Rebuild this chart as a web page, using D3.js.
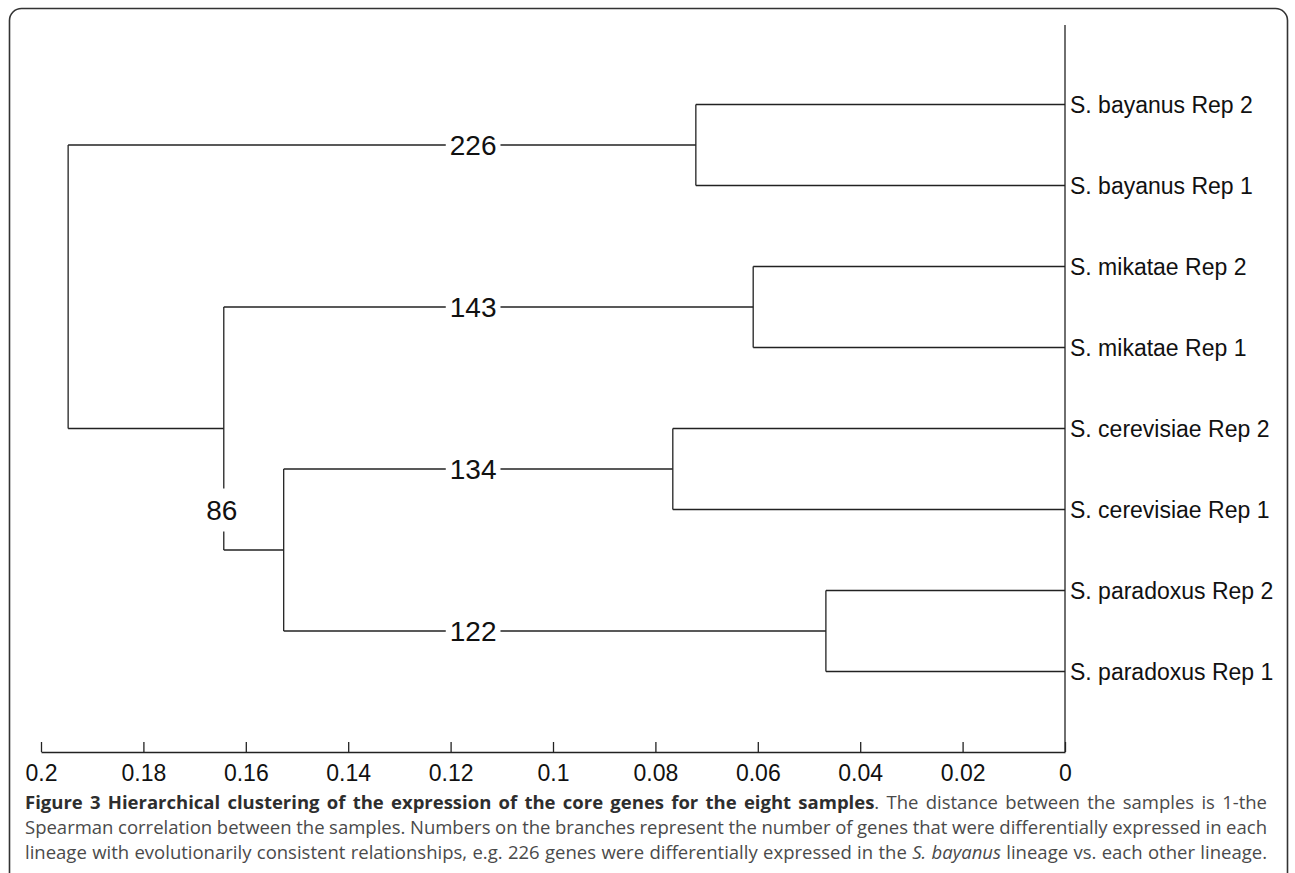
<!DOCTYPE html>
<html>
<head>
<meta charset="utf-8">
<script src="https://cdn.jsdelivr.net/npm/d3@7"></script>
<style>
  html, body { margin: 0; padding: 0; background: #fff; }
  svg { display: block; }
</style>
</head>
<body>
<svg id="chart" width="1295" height="873"></svg>
<script>
// ---------------- data ----------------
const leaves = [
  "S. bayanus Rep 2", "S. bayanus Rep 1",
  "S. mikatae Rep 2", "S. mikatae Rep 1",
  "S. cerevisiae Rep 2", "S. cerevisiae Rep 1",
  "S. paradoxus Rep 2", "S. paradoxus Rep 1"
];
// linkage: node ids 0..7 are leaves, 8.. are merges in order
const mergeLeft   = [0, 2, 4, 6, 10, 9, 8];
const mergeRight  = [1, 3, 5, 7, 11, 12, 13];
const mergeHeight = [0.0721, 0.0609, 0.0766, 0.0467, 0.1526, 0.1643, 0.1947];
const branchLabel = ["226", "143", "134", "122", "86", null, null];
const tickValues  = [0.2, 0.18, 0.16, 0.14, 0.12, 0.1, 0.08, 0.06, 0.04, 0.02, 0];
const tickLabels  = ["0.2", "0.18", "0.16", "0.14", "0.12", "0.1", "0.08", "0.06", "0.04", "0.02", "0"];
const captionLines = [
  [["b", "Figure 3 Hierarchical clustering of the expression of the core genes for the eight samples"],
   ["n", ". The distance between the samples is 1-the"]],
  [["n", "Spearman correlation between the samples. Numbers on the branches represent the number of genes that were differentially expressed in each"]],
  [["n", "lineage with evolutionarily consistent relationships, e.g. 226 genes were differentially expressed in the "],
   ["i", "S. bayanus"],
   ["n", " lineage vs. each other lineage."]]
];

// ---------------- layout ----------------
const svg = d3.select("#chart");
const ink = "#222";
const fontArial = "'Liberation Sans', Arial, Helvetica, sans-serif";

// frame
svg.append("rect")
  .attr("x", 9.5).attr("y", 8.5)
  .attr("width", 1278).attr("height", 920)
  .attr("rx", 12).attr("ry", 12)
  .attr("fill", "none").attr("stroke", "#333").attr("stroke-width", 1.6);

const x = d3.scaleLinear().domain([0.2, 0]).range([41, 1065]);
const y = d3.scalePoint().domain(leaves).range([104.5, 671.5]);
const axisY = 752;

// node positions
const nodeX = [], nodeY = [];
leaves.forEach((l, i) => { nodeX[i] = 0; nodeY[i] = y(l); });
mergeHeight.forEach((h, k) => {
  const id = leaves.length + k;
  nodeX[id] = h;
  nodeY[id] = (nodeY[mergeLeft[k]] + nodeY[mergeRight[k]]) / 2;
});

const g = svg.append("g")
  .attr("fill", "none").attr("stroke", ink).attr("stroke-width", 1.3);

mergeHeight.forEach((h, k) => {
  const a = mergeLeft[k], b = mergeRight[k];
  const px = x(h);
  g.append("line").attr("x1", px).attr("x2", px)
    .attr("y1", nodeY[a]).attr("y2", nodeY[b]);
  [a, b].forEach(c => {
    g.append("line")
      .attr("x1", px).attr("x2", x(nodeX[c]))
      .attr("y1", nodeY[c]).attr("y2", nodeY[c]);
  });
});

// right baseline (distance 0)
g.append("line").attr("x1", x(0)).attr("x2", x(0)).attr("y1", 25).attr("y2", axisY);

// branch labels
const labelDist = 0.1156;
mergeHeight.forEach((h, k) => {
  const txt = branchLabel[k];
  if (!txt) return;
  const id = leaves.length + k;
  let lx, ly;
  if (txt === "86") {
    lx = x(mergeHeight[5]) - 2; ly = 510;
  } else {
    lx = x(labelDist); ly = nodeY[id];
  }
  const t = svg.append("text")
    .attr("x", lx).attr("y", ly)
    .attr("text-anchor", "middle").attr("dominant-baseline", "central")
    .attr("font-family", fontArial).attr("font-size", 28).attr("fill", "#111")
    .text(txt);
  const bb = t.node().getBBox();
  const padX = txt === "86" ? 0 : 4;
  const padY = txt === "86" ? 6 : 0;
  svg.insert("rect", "text")
    .attr("x", bb.x - padX).attr("y", bb.y - padY)
    .attr("width", bb.width + 2 * padX).attr("height", bb.height + 2 * padY)
    .attr("fill", "#fff");
});

// leaf labels
svg.append("g").selectAll("text").data(leaves).join("text")
  .attr("x", x(0) + 5).attr("y", d => y(d))
  .attr("dominant-baseline", "central")
  .attr("font-family", fontArial).attr("font-size", 23).attr("fill", "#111")
  .text(d => d);

// axis
const axis = d3.axisBottom(x)
  .tickValues(tickValues)
  .tickFormat((d, i) => tickLabels[i])
  .tickSizeInner(-10).tickSizeOuter(0).tickPadding(13);
const ax = svg.append("g").attr("transform", `translate(0,${axisY})`).call(axis);
ax.select(".domain").attr("stroke", ink).attr("stroke-width", 1.5);
ax.selectAll(".tick line").attr("stroke", ink).attr("stroke-width", 1.3);
ax.selectAll(".tick text")
  .attr("font-family", fontArial).attr("font-size", 23).attr("fill", "#111");

// caption (justified)
const capLeft = 25, capRight = 1267;
const baselines = [809, 834, 858.5];
const capFont = "'Open Sans', 'Noto Sans', sans-serif";
const capSize = 18.5;
captionLines.forEach((segs, li) => {
  const words = [];
  let cur = null;
  segs.forEach(([style, text]) => {
    text.split(" ").forEach((p, i) => {
      if (i > 0) cur = null;
      if (p === "") return;
      if (!cur) { cur = []; words.push(cur); }
      cur.push({ style, text: p });
    });
  });
  const nodes = words.map(w => {
    const t = svg.append("text")
      .attr("y", baselines[li])
      .attr("font-family", capFont).attr("font-size", capSize);
    w.forEach(part => {
      t.append("tspan")
        .attr("font-weight", part.style === "b" ? "bold" : "normal")
        .attr("font-style", part.style === "i" ? "italic" : "normal")
        .attr("fill", part.style === "b" ? "#2e2e2e" : "#4a4a4a")
        .text(part.text);
    });
    return t;
  });
  const widths = nodes.map(t => t.node().getComputedTextLength());
  const total = d3.sum(widths);
  const gap = (capRight - capLeft - total) / (nodes.length - 1);
  let cx = capLeft;
  nodes.forEach((t, i) => { t.attr("x", cx); cx += widths[i] + gap; });
});
</script>
</body>
</html>
